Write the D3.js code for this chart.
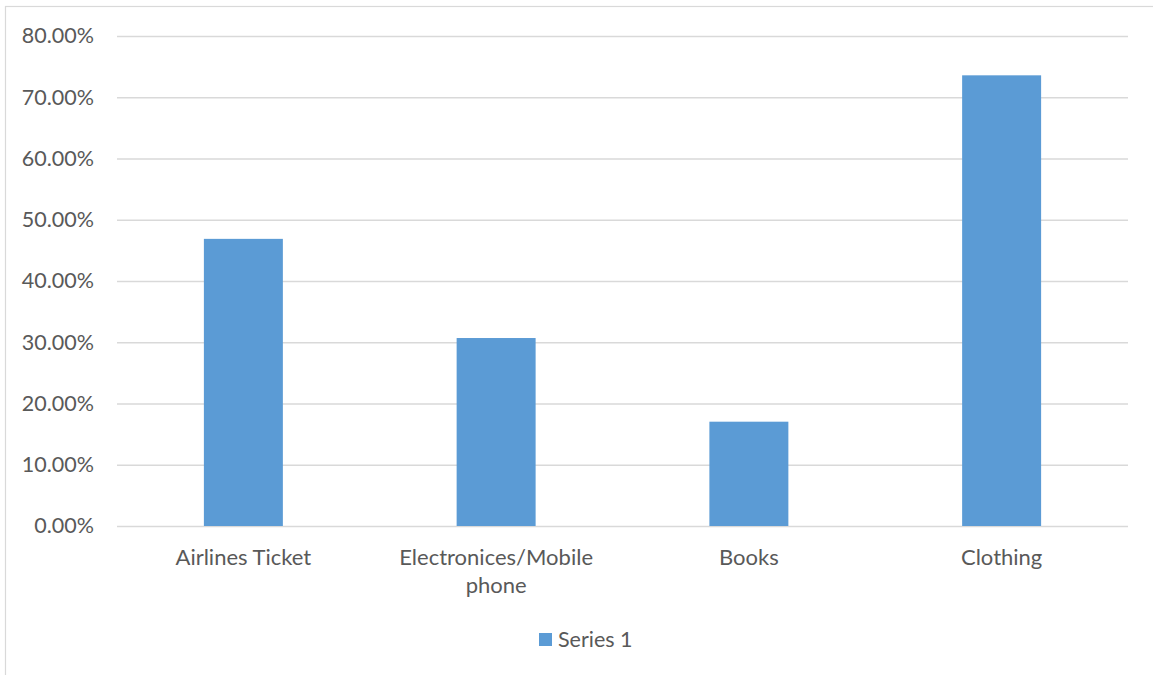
<!DOCTYPE html>
<html><head><meta charset="utf-8">
<script src="https://cdn.jsdelivr.net/npm/d3@7"></script>
<style>body{margin:0;background:#fff}svg{display:block}text{font-family:Lato,"Open Sans",sans-serif;fill:#595959}</style>
</head><body>
<svg id="c" width="1153" height="675"></svg>
<script>
const categories = ["Airlines Ticket", "Electronices/Mobile phone", "Books", "Clothing"];
const values = [0.4688, 0.3069, 0.1703, 0.7358];
const yTicks = [0, 0.1, 0.2, 0.3, 0.4, 0.5, 0.6, 0.7, 0.8];
const seriesName = "Series 1";

(function() {
const svg = d3.select("#c");
const W = 1153, H = 675;
const pl = 117, pr = 1128, pt = 36, pb = 526;

svg.append("rect").attr("x", 5.5).attr("y", 6.5).attr("width", W + 20).attr("height", H + 20)
  .attr("fill", "none").attr("stroke", "#d9d9d9").attr("stroke-width", 1.2);

const x = d3.scaleBand().domain(categories).range([pl, pr]).paddingInner(0.6875).paddingOuter(0.34375);
const y = d3.scaleLinear().domain([0, 0.8]).range([pb, pt]);

const yAxis = d3.axisLeft(y).tickValues(yTicks).tickFormat(d3.format(".2%")).tickSize(-(pr - pl)).tickPadding(23);
const gy = svg.append("g").attr("transform", `translate(${pl},0)`).call(yAxis);
gy.select(".domain").remove();
gy.selectAll(".tick line").attr("stroke", "#d9d9d9").attr("stroke-width", 1.5);
gy.selectAll(".tick text").style("font-size", "21.5px").attr("fill", "#595959");

svg.append("g").selectAll("rect").data(categories).join("rect")
  .attr("x", d => x(d)).attr("width", x.bandwidth())
  .attr("y", (d, i) => y(values[i])).attr("height", (d, i) => y(0) - y(values[i]))
  .attr("fill", "#5b9bd5");

const xAxis = d3.axisBottom(x).tickSize(0).tickPadding(23);
const gx = svg.append("g").attr("transform", `translate(0,${pb})`).call(xAxis);
gx.select(".domain").remove();
gx.selectAll(".tick text").style("font-size", "22px").attr("fill", "#595959").each(function(d) {
  const t = d3.select(this);
  const maxW = x.step() * 0.85;
  if (this.getComputedTextLength() > maxW) {
    const words = d.split(" ");
    t.text(null);
    let lines = [[]];
    for (const w of words) {
      lines[lines.length - 1].push(w);
      const probe = t.append("tspan").text(lines[lines.length - 1].join(" "));
      const len = probe.node().getComputedTextLength();
      probe.remove();
      if (len > maxW && lines[lines.length - 1].length > 1) {
        lines[lines.length - 1].pop();
        lines.push([w]);
      }
    }
    const y0 = t.attr("y");
    lines.forEach((ln, i) => {
      t.append("tspan").attr("x", 0).attr("y", y0).attr("dy", (0.71 + i * 1.27) + "em").text(ln.join(" "));
    });
  }
});

const lg = svg.append("g");
lg.append("rect").attr("x", 539).attr("y", 633).attr("width", 13).attr("height", 13).attr("fill", "#5b9bd5");
lg.append("text").attr("x", 558).attr("y", 647).style("font-size", "21.5px").text(seriesName);
})();
</script>
</body></html>
